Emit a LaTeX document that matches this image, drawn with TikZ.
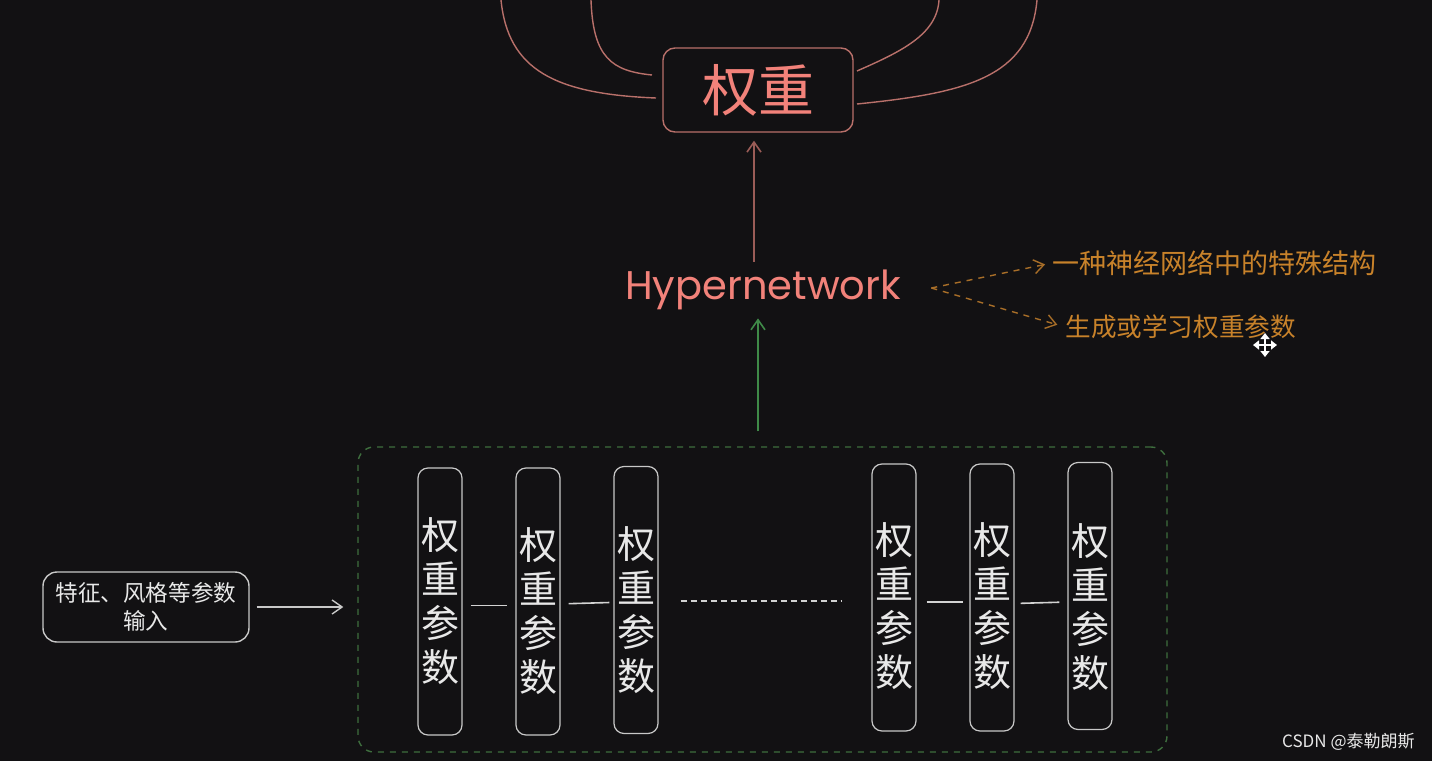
\documentclass[tikz,border=0pt]{standalone}
\usepackage{fontspec}
\setmainfont{Noto Sans CJK SC}
\newfontfamily\hypfont{Poppins}
\usetikzlibrary{arrows.meta,calc}
\definecolor{bg}{HTML}{121113}
\definecolor{salmon}{HTML}{F2827A}
\definecolor{salmonline}{HTML}{B8706A}
\definecolor{upred}{HTML}{9A5C57}
\definecolor{greenarr}{HTML}{3F8A48}
\definecolor{greendash}{HTML}{3E6E3E}
\definecolor{orangetxt}{HTML}{C8822A}
\definecolor{orangeline}{HTML}{A86E28}
\definecolor{boxgrey}{HTML}{C8C8C8}
\definecolor{txtwhite}{HTML}{E8E8E8}
\tikzset{
  tallbox/.style={draw=boxgrey, line width=0.6pt, rounded corners=5pt, minimum width=22pt, minimum height=133.5pt, inner sep=0pt},
  talltext/.style={text=txtwhite, align=center, font=\fontsize{19}{22}\selectfont, inner sep=0pt},
  link/.style={draw=boxgrey!80, line width=0.8pt},
  barb/.style={-{Straight Barb[length=5pt,width=7pt]}},
}
\begin{document}
\begin{tikzpicture}[x=0.5pt,y=-0.5pt]
\fill[bg] (0,0) rectangle (1432,761);
\useasboundingbox (0,0) rectangle (1432,761);

% top weight box
\node[draw=salmonline, line width=0.7pt, rounded corners=6pt, minimum width=95pt, minimum height=42pt, text=salmon, font=\fontsize{28}{28}\selectfont] (w) at (758,90) {权重};

% curves coming from top
\coordinate (c1) at (501,0);
\coordinate (c2) at (591,0);
\coordinate (c3) at (939,0);
\coordinate (c4) at (1037,0);
\coordinate (e1) at (656,98);
\coordinate (e2) at (652,75);
\coordinate (e3) at (857,71);
\coordinate (e4) at (857,104);
\draw[salmonline, line width=0.7pt] (c1) .. controls (508,70) and (555,94) .. (e1);
\draw[salmonline, line width=0.7pt] (c2) .. controls (593,58) and (612,71) .. (e2);
\draw[salmonline, line width=0.7pt] (e3) .. controls (900,52) and (937,35) .. (c3);
\draw[salmonline, line width=0.7pt] (e4) .. controls (965,93) and (1030,78) .. (c4);

% Hypernetwork
\node[text=salmon, font=\hypfont\fontsize{20}{20}\selectfont, inner sep=0pt] (h) at (763,290) {Hypernetwork};
\draw[upred, line width=0.8pt, barb, shorten >=4pt, shorten <=4pt] ($(h.north)+(-9,0)$) -- ($(w.south)+(-4,0)$);

% orange notes
\node[text=orangetxt, anchor=west, inner sep=0pt, font=\fontsize{13.5}{13.5}\selectfont] (o1) at (1052,263) {一种神经网络中的特殊结构};
\node[text=orangetxt, anchor=west, inner sep=0pt, font=\fontsize{12.8}{12.8}\selectfont] (o2) at (1065,327) {生成或学习权重参数};
\coordinate (hs) at ($(h.east)+(30,-2)$);
\draw[orangeline, line width=0.7pt, dashed, barb, shorten >=3.5pt] (hs) -- (o1.west);
\draw[orangeline, line width=0.7pt, dashed, barb, shorten >=4pt] (hs) -- (o2.west);

% cursor
\draw[white, line width=1pt, {Triangle[length=3pt,width=4.5pt]}-{Triangle[length=3pt,width=4.5pt]}] (1253,345) -- (1277,345);
\draw[white, line width=1pt, {Triangle[length=3pt,width=4.5pt]}-{Triangle[length=3pt,width=4.5pt]}] (1265,333) -- (1265,357);

% green dashed container
\node[draw=greendash, line width=0.7pt, dashed, rounded corners=8pt, minimum width=404.5pt, minimum height=152.5pt] (g) at (762.5,599.5) {};
\draw[greenarr, line width=0.8pt, barb, shorten <=7.5pt, shorten >=4pt] ($(g.north)+(-4.5,0)$) -- ($(h.south)+(-5,0)$);

% tall boxes
\node[tallbox] (b1) at (440,601.5) {};
\node[tallbox] (b2) at (538,601.5) {};
\node[tallbox] (b3) at (636,600) {};
\node[tallbox] (b4) at (894,597.5) {};
\node[tallbox] (b5) at (992,597.5) {};
\node[tallbox] (b6) at (1090,596) {};
\node[talltext] (t1) at (440,601) {权\\重\\参\\数};
\node[talltext] (t2) at (538,611) {权\\重\\参\\数};
\node[talltext] (t3) at (636,610) {权\\重\\参\\数};
\node[talltext] (t4) at (894,606) {权\\重\\参\\数};
\node[talltext] (t5) at (992,606) {权\\重\\参\\数};
\node[talltext] (t6) at (1090,607) {权\\重\\参\\数};

\draw[link, shorten <=4pt, shorten >=4pt] ([yshift=-2pt]b1.east) -- ([yshift=-2pt]b2.west);
\draw[link, shorten <=4pt, shorten >=2pt] ([yshift=-1.2pt]b2.east) -- ([yshift=-1.2pt]b3.west);
\draw[link, shorten <=5pt, shorten >=3pt] ([yshift=-2.2pt]b4.east) -- ([yshift=-2.2pt]b5.west);
\draw[link, shorten <=3pt, shorten >=4pt] ([yshift=-3pt]b5.east) -- ([yshift=-3pt]b6.west);
\draw[boxgrey!80, line width=0.6pt, dash pattern=on 3pt off 2pt, shorten <=11pt, shorten >=15pt] ([yshift=-0.5pt]b3.east) -- ([yshift=-0.5pt]b3.east -| b4.west);

% input box
\node[draw=boxgrey, line width=0.7pt, rounded corners=7pt, minimum width=103pt, minimum height=35pt, text=txtwhite, align=center, font=\fontsize{11.3}{14}\selectfont, inner sep=1pt] (in) at (146,607) {特征、风格等参数\\输入};
\draw[boxgrey, line width=0.7pt, barb, shorten <=3.5pt, shorten >=7pt] (in.east) -- (in.east -| g.west);

% watermark
\node[text=txtwhite, anchor=east, inner sep=0pt, font=\fontsize{8.5}{8.5}\selectfont] (wm) at (1415,742) {CSDN @泰勒朗斯};
\end{tikzpicture}
\end{document}
